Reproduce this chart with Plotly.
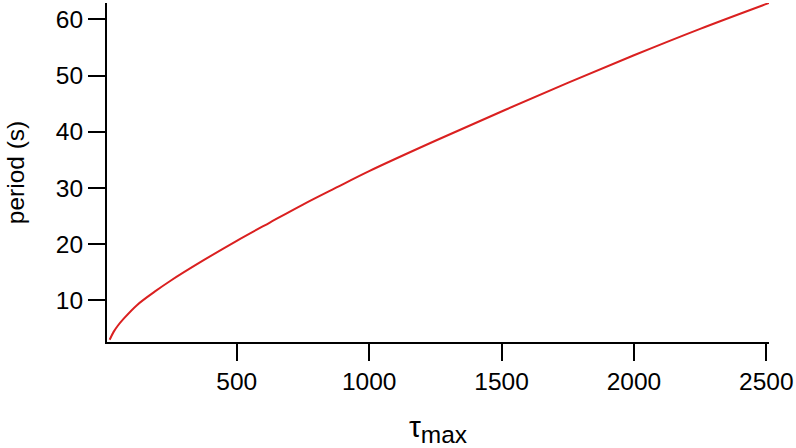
import plotly.graph_objects as go

# values
tau_max = [20, 35, 50, 74, 124, 190, 250, 375, 500, 625, 750, 875,
           1000, 1250, 1500, 1750, 2000, 2250, 2510]
period = [3.0, 4.4, 5.45, 6.8, 9.2, 11.55, 13.5, 17.15, 20.6, 23.85, 27.05, 30.05,
          33.0, 38.4, 43.6, 48.7, 53.6, 58.3, 62.9]

x_ticks = [500, 1000, 1500, 2000, 2500]
y_ticks = [10, 20, 30, 40, 50, 60]

fig = go.Figure()
fig.add_trace(go.Scatter(x=tau_max, y=period, mode="lines",
                         line=dict(color="rgb(218,32,32)", width=2, shape="spline"),
                         hoverinfo="none"))

axis_style = dict(showline=True, linecolor="black", linewidth=2,
                  ticks="outside", ticklen=17, tickwidth=1.5, tickcolor="black",
                  showgrid=False, zeroline=False,
                  tickfont=dict(size=24.5, color="black"))

fig.update_layout(
    width=796, height=448,
    margin=dict(l=107, r=27, t=3, b=106),
    plot_bgcolor="white", paper_bgcolor="white",
    font=dict(family="Liberation Sans, Arial, sans-serif", color="black"),
    showlegend=False,
    xaxis=dict(range=[10, 2510], tickvals=x_ticks,
               title=dict(text="τ<sub><span style='font-size:24.5px'>max</span></sub>",
                          font=dict(size=30), standoff=22),
               **axis_style),
    yaxis=dict(range=[2.6, 62.9], tickvals=y_ticks,
               title=dict(text="period (s)", font=dict(size=24.5), standoff=24),
               **axis_style),
)

# page body has a default margin; drop it so the figure sits at the corner
fig.write_html("out.html", config={"displayModeBar": False},
               post_script="document.body.style.margin='0';")
